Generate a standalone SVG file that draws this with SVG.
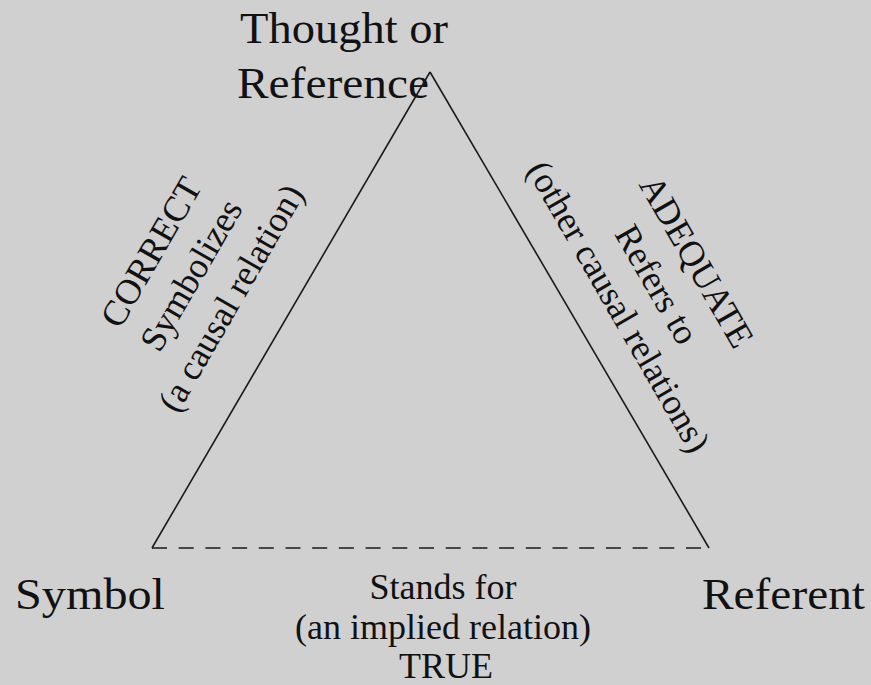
<svg xmlns="http://www.w3.org/2000/svg" width="871" height="685" viewBox="0 0 871 685">
  <style>
    .node { font-family: "Liberation Serif", "Times New Roman", serif; font-size: 45px; fill: #111; }
    .label { font-family: "Liberation Serif", "Times New Roman", serif; font-size: 36px; fill: #111; text-anchor: middle; }
    .edge { stroke: #1a1a1a; stroke-width: 1.6; fill: none; stroke-linecap: butt; }
    .dashed { stroke-dasharray: 15 11.7; }
  </style>
  <rect width="871" height="685" fill="#d0d0d0"/>

  <!-- vertices of the semiotic triangle -->
  <g id="thought">
    <text class="node" x="240" y="43" textLength="208" lengthAdjust="spacingAndGlyphs">Thought or</text>
    <text class="node" x="237" y="98" textLength="192" lengthAdjust="spacingAndGlyphs">Reference</text>
  </g>
  <g id="symbol">
    <text class="node" x="15" y="609" textLength="150" lengthAdjust="spacingAndGlyphs">Symbol</text>
  </g>
  <g id="referent">
    <text class="node" x="702" y="609" textLength="163" lengthAdjust="spacingAndGlyphs">Referent</text>
  </g>

  <!-- sides of the triangle -->
  <g id="connectors">
    <line class="edge" x1="152" y1="548" x2="430" y2="72"/>
    <line class="edge" x1="430" y1="72" x2="709" y2="548"/>
    <line class="edge dashed" x1="152" y1="548" x2="709" y2="548"/>
  </g>

  <!-- relation labels -->
  <g id="label-symbolizes" transform="translate(191,275) rotate(-60)">
    <text class="label" x="0" y="-34">CORRECT</text>
    <text class="label" x="0" y="12">Symbolizes</text>
    <text class="label" x="0" y="58" textLength="255" lengthAdjust="spacingAndGlyphs">(a causal relation)</text>
  </g>
  <g id="label-refers" transform="translate(656,285) rotate(60)">
    <text class="label" x="0" y="-35">ADEQUATE</text>
    <text class="label" x="0" y="11">Refers to</text>
    <text class="label" x="0" y="55">(other causal relations)</text>
  </g>
  <g id="label-stands">
    <text class="label" x="443" y="599">Stands for</text>
    <text class="label" x="443" y="639">(an implied relation)</text>
    <text class="label" x="446" y="678">TRUE</text>
  </g>
</svg>
